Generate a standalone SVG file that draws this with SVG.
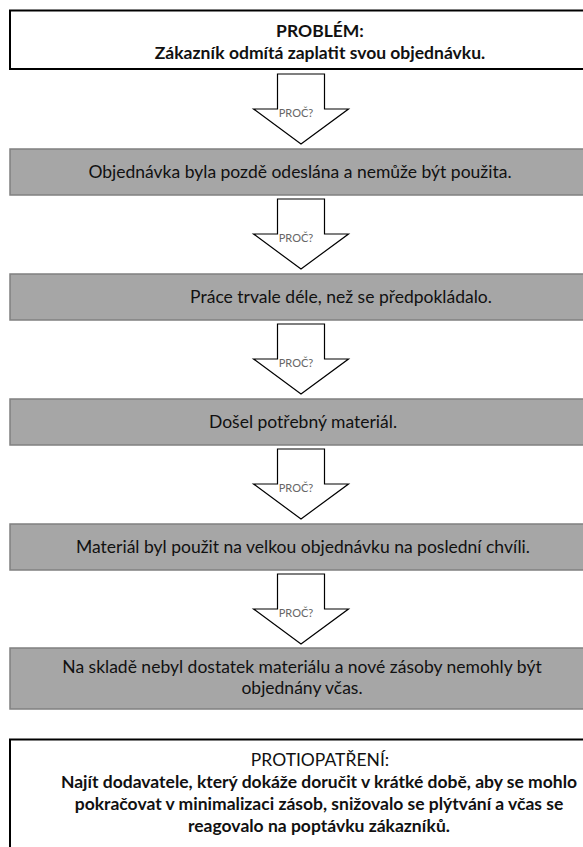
<svg xmlns="http://www.w3.org/2000/svg" width="583" height="847" viewBox="0 0 583 847">
<defs>
<style>
.wbox{fill:#ffffff;stroke:#000000;stroke-width:2}
.gbox{fill:#a6a6a6;stroke:#808080;stroke-width:1.5}
.arrow{fill:#ffffff;stroke:#000000;stroke-width:1.2;stroke-linejoin:miter}
.t{font-family:Lato,"Open Sans","Liberation Sans",sans-serif;font-size:17.5px;fill:#111111;text-anchor:middle}
.b{font-weight:bold}
.why{font-family:Lato,"Open Sans","Liberation Sans",sans-serif;font-size:11px;fill:#666666;text-anchor:middle}
</style>
<path id="arr" d="M277.5,0 H324.5 V35 H348.5 L301,70 L253.5,35 H277.5 Z"/>
</defs>
<g id="connectors">
<g id="a1" transform="translate(0,74)"><use href="#arr" class="arrow"/><text class="why" x="296" y="43">PROČ?</text></g>
<g id="a2" transform="translate(0,199)"><use href="#arr" class="arrow"/><text class="why" x="296" y="43">PROČ?</text></g>
<g id="a3" transform="translate(0,324)"><use href="#arr" class="arrow"/><text class="why" x="296" y="43">PROČ?</text></g>
<g id="a4" transform="translate(0,449)"><use href="#arr" class="arrow"/><text class="why" x="296" y="43">PROČ?</text></g>
<g id="a5" transform="translate(0,574)"><use href="#arr" class="arrow"/><text class="why" x="296" y="43">PROČ?</text></g>
</g>
<g id="problem">
<rect class="wbox" x="10" y="10.5" width="620" height="58.5"/>
<text class="t b" x="320" y="37">PROBLÉM:</text>
<text class="t b" x="320" y="59">Zákazník odmítá zaplatit svou objednávku.</text>
</g>
<g id="why1">
<rect class="gbox" x="10" y="149" width="600" height="46"/>
<text class="t" x="300" y="178">Objednávka byla pozdě odeslána a nemůže být použita.</text>
</g>
<g id="why2">
<rect class="gbox" x="10" y="274" width="600" height="46"/>
<text class="t" x="341" y="303">Práce trvale déle, než se předpokládalo.</text>
</g>
<g id="why3">
<rect class="gbox" x="10" y="399" width="600" height="46"/>
<text class="t" x="303" y="428">Došel potřebný materiál.</text>
</g>
<g id="why4">
<rect class="gbox" x="10" y="524" width="600" height="46"/>
<text class="t" x="303" y="553">Materiál byl použit na velkou objednávku na poslední chvíli.</text>
</g>
<g id="why5">
<rect class="gbox" x="10" y="648" width="600" height="61"/>
<text class="t" x="302" y="673">Na skladě nebyl dostatek materiálu a nové zásoby nemohly být</text>
<text class="t" x="302" y="694">objednány včas.</text>
</g>
<g id="countermeasure">
<rect class="wbox" x="10" y="739.5" width="620" height="120"/>
<text class="t" x="320" y="766">PROTIOPATŘENÍ:</text>
<text class="t b" x="319" y="788">Najít dodavatele, který dokáže doručit v krátké době, aby se mohlo</text>
<text class="t b" x="319" y="810">pokračovat v minimalizaci zásob, snižovalo se plýtvání a včas se</text>
<text class="t b" x="319" y="832">reagovalo na poptávku zákazníků.</text>
</g>
</svg>
